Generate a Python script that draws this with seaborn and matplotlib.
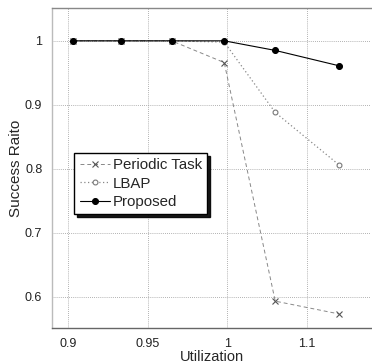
import numpy as np
import pandas as pd
import matplotlib
matplotlib.use("Agg")
import matplotlib.pyplot as plt
import seaborn as sns

# Data
utilization = [0.903, 0.933, 0.965, 0.998, 1.06, 1.14]
periodic = [1.0, 1.0, 1.0, 0.966, 0.593, 0.573]
lbap = [1.0, 1.0, 1.0, 0.998, 0.888, 0.806]
proposed = [1.0, 1.0, 1.0, 1.0, 0.985, 0.961]
series_names = ["Periodic Task", "LBAP", "Proposed"]
x_ticks = [0.9, 0.95, 1.0, 1.1]
x_tick_labels = ["0.9", "0.95", "1", "1.1"]
y_ticks = [0.6, 0.7, 0.8, 0.9, 1.0]
y_tick_labels = ["0.6", "0.7", "0.8", "0.9", "1"]

sns.set_theme(style="white")
plt.rcParams['font.family'] = ['Liberation Sans', 'DejaVu Sans']

# piecewise axis: equally spaced ticks
src = [0.85, 0.9, 0.95, 1.0, 1.1, 1.2]
dst = [-1, 0, 1, 2, 3, 4]
fwd = lambda v: np.interp(v, src, dst)
inv = lambda v: np.interp(v, dst, src)

fig = plt.figure(figsize=(3.72, 3.63), dpi=100)
ax = fig.add_axes([0.140, 0.0964, 0.857, 0.881])
ax.set_xscale('function', functions=(fwd, inv))

df = pd.DataFrame({"u": utilization, "Periodic Task": periodic, "LBAP": lbap, "Proposed": proposed})

sns.lineplot(data=df, x="u", y="Periodic Task", ax=ax, color="#888888", linestyle=(0, (4, 3)),
             linewidth=0.7, marker="x", markersize=4.5, markeredgewidth=0.8, markeredgecolor="#555555",
             label=series_names[0])
sns.lineplot(data=df, x="u", y="LBAP", ax=ax, color="#888888", linestyle=(0, (1, 2)),
             linewidth=0.9, marker="o", markersize=3.5, markerfacecolor="white", markeredgecolor="#777777",
             markeredgewidth=0.8, label=series_names[1])
sns.lineplot(data=df, x="u", y="Proposed", ax=ax, color="black", linestyle="-",
             linewidth=0.8, marker="o", markersize=4.3, markerfacecolor="black", markeredgecolor="black",
             label=series_names[2])

ax.set_xlim(inv(-0.2), inv(3.8))
ax.set_ylim(0.551, 1.051)
ax.set_xticks(x_ticks)
ax.set_xticklabels(x_tick_labels)
ax.set_yticks(y_ticks)
ax.set_yticklabels(y_tick_labels)
ax.minorticks_off()
ax.tick_params(axis='both', labelsize=9, length=0, pad=7, colors="#222222")
ax.grid(True, color="#999999", linestyle=(0, (1, 1.5)), linewidth=0.6)
ax.set_xlabel("Utilization", fontsize=10.5, labelpad=0)
ax.set_ylabel("Success Raito", fontsize=11, labelpad=1.5)

ax.spines["right"].set_visible(False)
ax.spines["left"].set_color("#bbbbbb")
ax.spines["top"].set_color("#888888")
ax.spines["bottom"].set_color("#666666")
for s in ["left", "top", "bottom"]:
    ax.spines[s].set_linewidth(1.0)

leg = ax.legend(loc="upper left", bbox_to_anchor=(0.07, 0.548), fontsize=10.8, frameon=True,
                fancybox=False, shadow={'color': 'black', 'alpha': 0.9}, handlelength=2.0,
                handletextpad=0.2, labelspacing=0.3, borderpad=0.35, borderaxespad=0)
leg.get_frame().set_edgecolor("black")
leg.get_frame().set_linewidth(1.0)

fig.savefig("out.png", dpi=100)
